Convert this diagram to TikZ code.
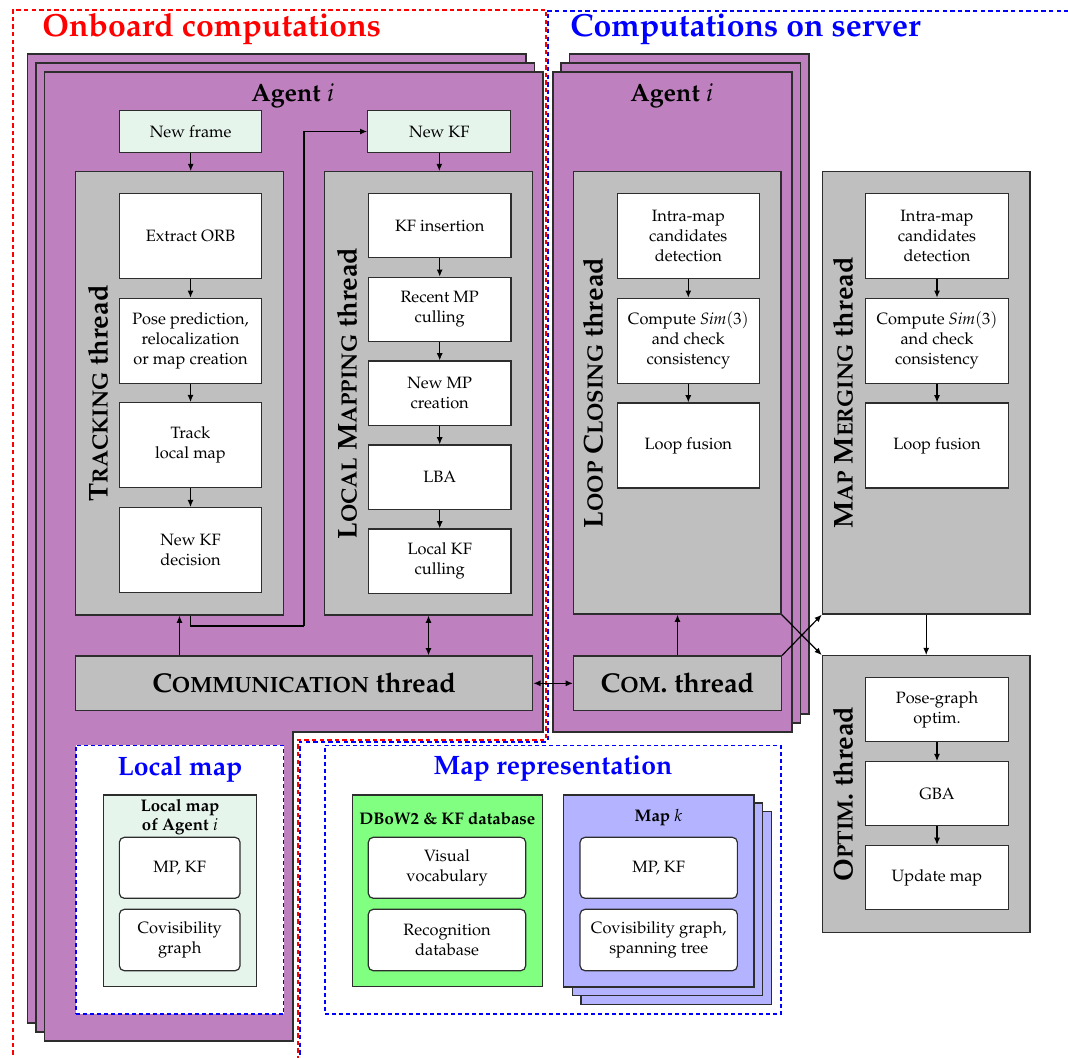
\documentclass[tikz,border=0pt]{standalone}
\usepackage[T1]{fontenc}
\usepackage{mathpazo}
\usetikzlibrary{arrows.meta}

\definecolor{agentpurple}{RGB}{191,128,191}
\definecolor{threadgray}{RGB}{191,191,191}
\definecolor{mint}{RGB}{230,245,236}
\definecolor{dbgreen}{RGB}{128,255,128}
\definecolor{maplav}{RGB}{179,179,255}
\definecolor{edgecol}{RGB}{45,45,45}

% one pixel of the layout grid
\newcommand\pxu{0.5pt}
% faked bold small capitals
\newcommand\smallcap[1]{{\fontsize{11}{13}\selectfont #1}}

\tikzset{
  body/.style={font=\fontsize{8.2}{10}\selectfont, align=center},
  wbox/.style={body, draw=edgecol, line width=0.6pt, fill=white, inner sep=1pt},
  ibox/.style={body, draw=edgecol, line width=0.6pt, fill=mint, inner sep=1pt},
  rbox/.style={body, draw=edgecol, line width=0.6pt, fill=white, rounded corners=2.5pt, inner sep=1pt},
  gbox/.style={draw=edgecol, line width=0.6pt, fill=threadgray, inner sep=0pt},
  stackcard/.style={draw=edgecol, line width=0.6pt, fill=agentpurple},
  mapcard/.style={draw=edgecol, line width=0.6pt, fill=maplav},
  threadlabel/.style={rotate=90, font=\fontsize{13.6}{15}\selectfont\bfseries},
  headlabel/.style={font=\fontsize{13.6}{15}\selectfont\bfseries},
  agentlabel/.style={font=\fontsize{12.5}{15}\selectfont},
  areatitle/.style={font=\fontsize{16}{19}\selectfont\bfseries, anchor=west, inner sep=0pt},
  boxtitle/.style={font=\fontsize{13.3}{15}\selectfont\bfseries, text=blue},
  smalltitle/.style={font=\fontsize{8.4}{9.7}\selectfont\bfseries, align=center},
  arr/.style={line width=0.6pt, -{Latex[length=3.6pt,width=3pt]}},
  darr/.style={line width=0.6pt, {Latex[length=3.6pt,width=3pt]}-{Latex[length=3.6pt,width=3pt]}},
  dashframe/.style={line width=0.65pt, dash pattern=on 2pt off 1.5pt, draw=blue, fill=white},
  regionline/.style={line width=1pt, dash pattern=on 2.2pt off 1.6pt},
}

\begin{document}
\begin{tikzpicture}[x=0.5pt,y=-0.5pt]
\clip (0,0) rectangle (1068,1057);
\fill[white] (0,0) rectangle (1068,1057);

% ---------------- onboard agent cards (L-shaped stack)
\draw[stackcard] (27.5,54) -- (526,54) -- (526,714) -- (276,714) -- (276,1023) -- (27.5,1023) -- cycle;
\draw[stackcard] (36,63) -- (534.5,63) -- (534.5,723) -- (284.5,723) -- (284.5,1032) -- (36,1032) -- cycle;
\draw[stackcard] (44.6,72) -- (543,72) -- (543,732) -- (293,732) -- (293,1041) -- (44.6,1041) -- cycle;

% ---------------- server agent cards
\draw[stackcard] (569.5,54) rectangle (809,714);
\draw[stackcard] (561,63) rectangle (800.5,723);
\draw[stackcard] (553,72) rectangle (792,732);

% ---------------- region frames
\draw[regionline, red]
  (13,1070) -- (13,9.5) -- (546,9.5) -- (546,740) -- (298,740) -- (298,1070);
\draw[regionline, blue, dash phase=1.9pt]
  (1080,10.5) -- (547.5,10.5) -- (547.5,741.5) -- (299.5,741.5) -- (299.5,1070);

\node[areatitle, text=red] (ttlonboard) at (42,29) {Onboard computations};
\node[areatitle, text=blue] (ttlserver) at (570,29) {Computations on server};

\node[agentlabel] (agentL) at (293,96) {\textbf{Agent} $i$};
\node[agentlabel] (agentS) at (672,96) {\textbf{Agent} $i$};

% ---------------- entry boxes
\node[ibox, minimum width=142*\pxu, minimum height=41.6*\pxu] (nf) at (190.7,131.5) {New frame};
\node[ibox, minimum width=143*\pxu, minimum height=41.6*\pxu] (nkf) at (439.3,131.5) {New KF};

% ---------------- tracking thread
\node[gbox, minimum width=207.6*\pxu, minimum height=443.3*\pxu] (trk) at (179.5,393.3) {};
\node[threadlabel] (trklbl) at (98,393.3) {T\smallcap{RACKING} thread};
\node[wbox, minimum width=142.4*\pxu, minimum height=85*\pxu] (t1) at (190.5,235.8) {Extract ORB};
\node[wbox, minimum width=142.4*\pxu, minimum height=85*\pxu] (t2) at (190.5,340.8) {Pose prediction,\\relocalization\\or map creation};
\node[wbox, minimum width=142.4*\pxu, minimum height=85*\pxu] (t3) at (190.5,445.2) {Track\\local map};
\node[wbox, minimum width=142.4*\pxu, minimum height=85*\pxu] (t4) at (190.5,550.2) {New KF\\decision};

% ---------------- local mapping thread
\node[gbox, minimum width=208.4*\pxu, minimum height=443.3*\pxu] (lmt) at (428.5,393.3) {};
\node[threadlabel] (lmtlbl) at (347,393.3) {L\smallcap{OCAL} M\smallcap{APPING} thread};
\node[wbox, minimum width=142.7*\pxu, minimum height=64.4*\pxu] (m1) at (439.7,225.5) {KF insertion};
\node[wbox, minimum width=142.7*\pxu, minimum height=64.4*\pxu] (m2) at (439.7,309.5) {Recent MP\\culling};
\node[wbox, minimum width=142.7*\pxu, minimum height=64.4*\pxu] (m3) at (439.7,393.2) {New MP\\creation};
\node[wbox, minimum width=142.7*\pxu, minimum height=64.4*\pxu] (m4) at (439.7,477.2) {LBA};
\node[wbox, minimum width=142.7*\pxu, minimum height=64.4*\pxu] (m5) at (439.7,561.2) {Local KF\\culling};

% ---------------- communication threads
\node[gbox, minimum width=457*\pxu, minimum height=54.7*\pxu] (comm) at (304.2,683.3) {};
\node[headlabel] (commlbl) at (304.2,683.3) {C\smallcap{OMMUNICATION} thread};
\node[gbox, minimum width=208*\pxu, minimum height=54.7*\pxu] (com) at (677.5,683.3) {};
\node[headlabel] (comlbl) at (677.5,683.3) {C\smallcap{OM}. thread};

% ---------------- loop closing thread
\node[gbox, minimum width=207.7*\pxu, minimum height=442.3*\pxu] (lc) at (677.2,392.9) {};
\node[threadlabel] (lclbl) at (593,392.9) {L\smallcap{OOP} C\smallcap{LOSING} thread};
\node[wbox, minimum width=142*\pxu, minimum height=85*\pxu] (c1) at (688.3,235.8) {Intra-map\\candidates\\detection};
\node[wbox, minimum width=142*\pxu, minimum height=85*\pxu] (c2) at (688.3,340.8) {Compute $\mathit{Sim}(3)$\\and check\\consistency};
\node[wbox, minimum width=142*\pxu, minimum height=85*\pxu] (c3) at (688.3,445.5) {Loop fusion};

% ---------------- map merging thread
\node[gbox, minimum width=207.7*\pxu, minimum height=442.3*\pxu] (mm) at (926.2,392.9) {};
\node[threadlabel] (mmlbl) at (843,392.9) {M\smallcap{AP} M\smallcap{ERGING} thread};
\node[wbox, minimum width=142.6*\pxu, minimum height=85*\pxu] (g1) at (937,235.8) {Intra-map\\candidates\\detection};
\node[wbox, minimum width=142.6*\pxu, minimum height=85*\pxu] (g2) at (937,340.8) {Compute $\mathit{Sim}(3)$\\and check\\consistency};
\node[wbox, minimum width=142.6*\pxu, minimum height=85*\pxu] (g3) at (937,445.5) {Loop fusion};

% ---------------- optimization thread
\node[gbox, minimum width=207.7*\pxu, minimum height=276.6*\pxu] (opt) at (926.2,794) {};
\node[threadlabel] (optlbl) at (843,794) {O\smallcap{PTIM}. thread};
\node[wbox, minimum width=142.6*\pxu, minimum height=64*\pxu] (o1) at (937,709.7) {Pose-graph\\optim.};
\node[wbox, minimum width=142.6*\pxu, minimum height=64*\pxu] (o2) at (937,793.7) {GBA};
\node[wbox, minimum width=142.6*\pxu, minimum height=64*\pxu] (o3) at (937,877.5) {Update map};

% ---------------- local map panel
\node[dashframe, minimum width=207.7*\pxu, minimum height=268.7*\pxu] (lmap) at (179.9,879.7) {};
\node[boxtitle] (lmaplbl) at (180,769) {Local map};
\node[draw=edgecol, line width=0.6pt, fill=mint, minimum width=153.4*\pxu, minimum height=191.7*\pxu] (lma) at (180,890.8) {};
\node[smalltitle] (lmatl) at (180,817) {Local map\\of Agent $i$};
\node[rbox, minimum width=120.7*\pxu, minimum height=61*\pxu] (lmp) at (179.7,867.8) {MP, KF};
\node[rbox, minimum width=120.7*\pxu, minimum height=61.4*\pxu] (lcov) at (179.7,940) {Covisibility\\graph};

% ---------------- map representation panel
\node[dashframe, minimum width=456*\pxu, minimum height=268.3*\pxu] (mrep) at (553,879.8) {};
\node[boxtitle] (mreplbl) at (553,769) {Map representation};
\node[draw=edgecol, line width=0.6pt, fill=dbgreen, minimum width=190*\pxu, minimum height=191.7*\pxu] (dbow) at (447.3,890.8) {};
\node[smalltitle] (dbowtl) at (447.3,819) {DBoW2 \& KF database};
\node[rbox, minimum width=157.4*\pxu, minimum height=61*\pxu] (voc) at (447,867.8) {Visual\\vocabulary};
\node[rbox, minimum width=157.4*\pxu, minimum height=61.4*\pxu] (rdb) at (447,940) {Recognition\\database};

\draw[mapcard] (581,811.7) rectangle (771.7,1004.3);
\draw[mapcard] (572.3,803) rectangle (762.7,995.7);
\node[mapcard, minimum width=190.3*\pxu, minimum height=192*\pxu] (mapk) at (658.8,891) {};
\node[smalltitle] (mapktl) at (658.5,818) {Map $k$};
\node[rbox, minimum width=157.3*\pxu, minimum height=61*\pxu] (kmp) at (658.7,867.8) {MP, KF};
\node[rbox, minimum width=157.3*\pxu, minimum height=61.4*\pxu] (kcov) at (658.7,940) {Covisibility graph,\\spanning tree};

% ---------------- connectors
\draw[arr] (nf) -- (nf |- trk.north);
\draw[arr] (nkf) -- (nkf |- lmt.north);
\draw[arr] (t1) -- (t2);
\draw[arr] (t2) -- (t3);
\draw[arr] (t3) -- (t4);
\draw[arr] (m1) -- (m2);
\draw[arr] (m2) -- (m3);
\draw[arr] (m3) -- (m4);
\draw[arr] (m4) -- (m5);
\draw[arr] (c1) -- (c2);
\draw[arr] (c2) -- (c3);
\draw[arr] (g1) -- (g2);
\draw[arr] (g2) -- (g3);
\draw[arr] (o1) -- (o2);
\draw[arr] (o2) -- (o3);

\coordinate (kfturn) at (304,626);
\draw[line width=0.6pt] (trk.south -| nf) |- (kfturn);
\draw[arr] (kfturn) |- (nkf.west);
\draw[arr] (comm.north -| trk.south) -- (trk.south);
\draw[darr] (lmt.south) -- (lmt.south |- comm.north);
\draw[darr] (comm.east) -- (com.west);
\draw[arr] (com.north) -- (com.north |- lc.south);
\draw[arr] (mm.south) -- (mm.south |- opt.north);
\draw[arr] (lc.south east) -- (opt.north west);
\draw[arr] (com.north east) -- (mm.south west);
\end{tikzpicture}
\end{document}
